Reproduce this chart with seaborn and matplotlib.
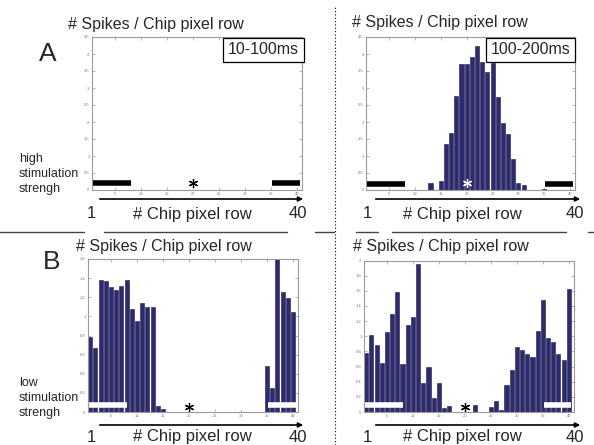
import numpy as np
import pandas as pd
import matplotlib
matplotlib.use("Agg")
import matplotlib.pyplot as plt
import seaborn as sns
from matplotlib.lines import Line2D

# ---------------- data ----------------
rows = list(range(1, 41))

counts_high_early = [0.0] * 40  # 10-100ms, high stimulation

counts_high_late = [0, 0, 0, 0, 0, 0, 0, 0, 0, 0,
                    0, 0, 0.20, 0, 0.26, 1.34, 1.69, 2.76, 3.70, 3.70,
                    3.92, 4.24, 3.77, 3.48, 3.75, 2.73, 1.96, 1.65, 0.90, 0.20,
                    0.15, 0, 0, 0, 0.04, 0, 0, 0, 0, 0]

counts_low_early = [0.78, 0.67, 1.38, 1.37, 1.31, 1.28, 1.32, 1.38, 1.08, 0.95,
                    1.14, 1.10, 1.10, 0.06, 0.03, 0, 0, 0, 0, 0,
                    0, 0, 0, 0, 0, 0, 0, 0, 0, 0,
                    0, 0, 0, 0, 0.48, 0.25, 1.60, 1.26, 1.19, 1.05]

counts_low_late = [0.78, 1.01, 0.89, 0.65, 1.05, 1.29, 1.58, 0.63, 1.15, 1.25,
                   1.96, 0.38, 0.60, 0.18, 0.38, 0.05, 0.08, 0, 0, 0,
                   0, 0.09, 0, 0, 0.07, 0.14, 0.03, 0.35, 0.56, 0.86,
                   0.82, 0.76, 0.73, 1.07, 1.48, 0.98, 0.93, 0.76, 0.68, 1.62]

y_limits = [4.5, 4.5, 1.6, 2.0]
y_steps = [0.5, 0.5, 0.2, 0.2]
x_ticks = [5, 10, 15, 20, 25, 30, 35, 40]
window_labels = ["10-100ms", "100-200ms", None, None]
stim_labels = ["high\nstimulation\nstrengh", "low\nstimulation\nstrengh"]
panel_letters = ["A", "B"]
title_text = "# Spikes / Chip pixel row"
xlabel_text = "# Chip pixel row"
stim_row = 20

# ---------------- style ----------------
sns.set_theme(style="white")
plt.rcParams["font.family"] = ["Liberation Sans", "DejaVu Sans"]

W, H = 594, 445
fig = plt.figure(figsize=(W / 100, H / 100), dpi=100)

def frac_box(l, r, t, b):
    return [l / W, 1 - b / H, (r - l) / W, (b - t) / H]

# axes boxes in pixel units (left, right, top, bottom)
boxes = [(91.6, 302.2, 37, 190),
         (365.9, 575.3, 37, 190),
         (87.6, 298.2, 259, 412),
         (363.6, 574.0, 260.5, 412)]
datasets = [counts_high_early, counts_high_late, counts_low_early, counts_low_late]
bar_marker_color = ["black", "black", "white", "white"]
star_color = ["black", "white", "black", "black"]
bar_y = [0.20, 0.19, 0.077, 0.097]
star_frac = [0.048, 0.048, 0.032, 0.032]
bar_color = "#2d2a70"
gray = "#9a9a9a"

for i, (box, vals) in enumerate(zip(boxes, datasets)):
    ax = fig.add_axes(frac_box(*box))
    df = pd.DataFrame({"row": rows, "count": vals})
    sns.barplot(data=df, x="row", y="count", native_scale=True, ax=ax,
                color=bar_color, saturation=1, width=0.8,
                edgecolor="#1c1a4a", linewidth=0.4, errorbar=None)
    ax.set_xlim(0.5, 41)
    ax.set_ylim(0, y_limits[i])
    ax.set_xlabel("")
    ax.set_ylabel("")
    ax.set_xticks(x_ticks)
    yt = np.round(np.arange(0, y_limits[i] + 1e-6, y_steps[i]), 2)
    ax.set_yticks(yt)
    ax.set_yticklabels([f"{v:g}" for v in yt])
    ax.tick_params(axis="both", which="both", direction="in", length=2, width=0.5,
                   colors=gray, labelsize=3, labelcolor="#777777", pad=1.5,
                   top=True, right=True, bottom=True, left=True)
    for s in ax.spines.values():
        s.set_color(gray)
        s.set_linewidth(0.8)
    ax.set_facecolor("white")
    # electrode markers
    ax.plot([0.7, 8.0], [bar_y[i]] * 2, color=bar_marker_color[i], lw=4.0,
            solid_capstyle="butt", zorder=5)
    ax.plot([35.2, 40.5], [bar_y[i]] * 2, color=bar_marker_color[i], lw=4.0,
            solid_capstyle="butt", zorder=5)
    # stimulation site asterisk
    ax.plot([stim_row], [star_frac[i]], transform=ax.get_xaxis_transform(),
            marker=(6, 2, 0), markersize=6.5, markeredgewidth=0.9,
            color=star_color[i], linestyle="none", zorder=6, clip_on=False)
    if window_labels[i]:
        ax.text(0.985 if i == 0 else 0.975, 0.965, window_labels[i],
                transform=ax.transAxes, ha="right", va="top", fontsize=11.5,
                bbox=dict(boxstyle="square,pad=0.3", fc="white", ec="black", lw=0.9),
                zorder=10, clip_on=False)

# titles
for (x, y) in [(68, 24), (352, 22), (76, 246), (353, 246)]:
    fig.text(x / W, 1 - y / H, title_text, fontsize=11.5, ha="left", va="center")

# panel letters
fig.text(48 / W, 1 - 54 / H, panel_letters[0], fontsize=19, ha="center", va="center")
fig.text(52 / W, 1 - 262 / H, panel_letters[1], fontsize=19, ha="center", va="center")

# stimulation labels
fig.text(19 / W, 1 - 174 / H, stim_labels[0], fontsize=9, ha="left", va="center",
         linespacing=1.3)
fig.text(19 / W, 1 - 398 / H, stim_labels[1], fontsize=9, ha="left", va="center",
         linespacing=1.3)

# arrows and axis captions below panels
for (x0, x1, ya, yl, xc) in [(97, 306, 199, 214, 192), (373, 583, 199, 214, 462),
                              (97, 306, 425, 437, 192), (373, 583, 425, 437, 462)]:
    fig.add_artist(matplotlib.patches.FancyArrowPatch(
        (x0 / W, 1 - ya / H), (x1 / W, 1 - ya / H), transform=fig.transFigure,
        arrowstyle="-|>", mutation_scale=7, lw=1.2, color="black"))
    fig.text((x0 - 6) / W, 1 - yl / H, "1", fontsize=12, ha="center", va="center")
    fig.text(xc / W, 1 - yl / H, xlabel_text, fontsize=12, ha="center", va="center")
    fig.text((x1 - 8) / W, 1 - yl / H, "40", fontsize=12, ha="center", va="center")

# separator line between rows
for (a, b) in [(0, 84), (104, 287), (315, 334), (356, 378), (392, 566), (588, 594)]:
    fig.add_artist(Line2D([a / W, b / W], [1 - 232 / H] * 2, color="#444444", lw=1.0,
                          transform=fig.transFigure))

# dotted vertical divider
fig.add_artist(Line2D([335 / W] * 2, [0, 1 - 5 / H], color="black", lw=0.8,
                      linestyle=(0, (1, 2)), transform=fig.transFigure))

fig.savefig("out.png", dpi=100, facecolor="white")
